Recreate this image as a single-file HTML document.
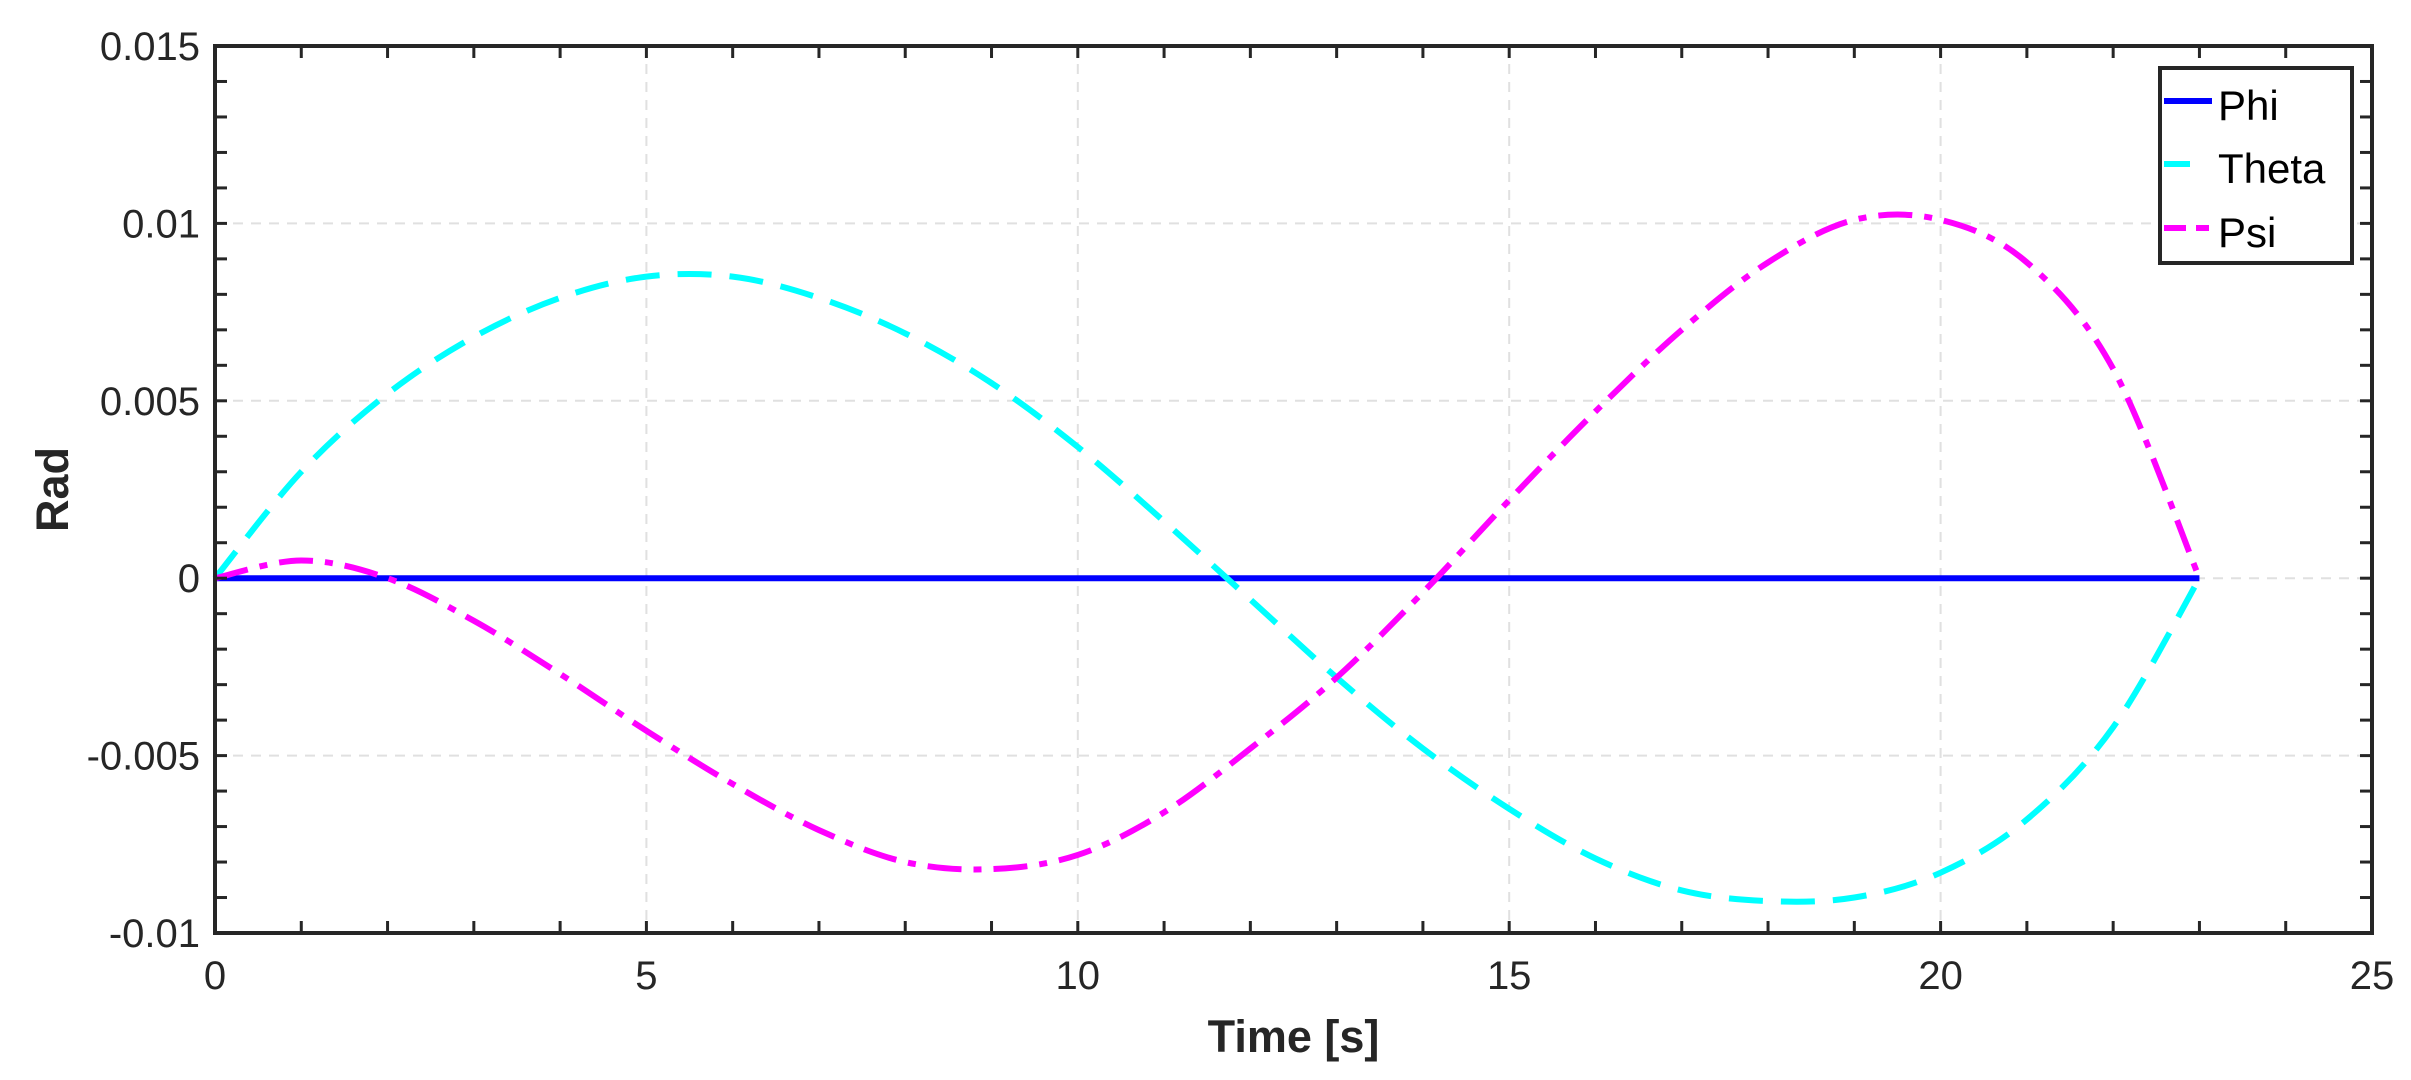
<!DOCTYPE html>
<html><head><meta charset="utf-8"><style>body{margin:0;background:#fff}svg{display:block}</style></head><body>
<svg id="s" width="2411" height="1080" xmlns="http://www.w3.org/2000/svg" font-family="Liberation Sans, Arial, sans-serif"></svg>
<script>
const L=215,R=2372,T=46,B=933;
const X=t=>L+(t/25)*(R-L), Y=v=>T+(0.015-v)/0.025*(B-T);
let h='<rect width="2411" height="1080" fill="#fff"/>';
for(let t=5;t<25;t+=5)h+=`<line x1="${X(t)}" y1="${T}" x2="${X(t)}" y2="${B}" stroke="#e0e0e0" stroke-width="2" stroke-dasharray="10,8"/>`;
for(let v=-0.005;v<0.0149;v+=0.005)h+=`<line x1="${L}" y1="${Y(v)}" x2="${R}" y2="${Y(v)}" stroke="#e0e0e0" stroke-width="2" stroke-dasharray="10,8"/>`;
function path(pts){const p=pts.map(a=>[X(a[0]),Y(a[1])]);let d=`M${p[0][0]},${p[0][1]}`;
for(let i=0;i<p.length-1;i++){const p0=p[Math.max(0,i-1)],p1=p[i],p2=p[i+1],p3=p[Math.min(p.length-1,i+2)];
d+=` C${p1[0]+(p2[0]-p0[0])/6},${p1[1]+(p2[1]-p0[1])/6} ${p2[0]-(p3[0]-p1[0])/6},${p2[1]-(p3[1]-p1[1])/6} ${p2[0]},${p2[1]}`;}return d;}
const th=[0,0.003,0.0052,0.0068,0.0079,0.0085,0.0085,0.0079,0.0069,0.0055,0.0037,0.0016,-0.0006,-0.0028,-0.0048,-0.0065,-0.0079,-0.0088,-0.0091,-0.0090,-0.0083,-0.0068,-0.0042,0].map((v,i)=>[i,v]);
const ps=[0,0.0005,0,-0.0012,-0.0027,-0.0043,-0.0058,-0.0071,-0.0080,-0.0082,-0.0078,-0.0066,-0.0048,-0.0028,-0.0004,0.0022,0.0047,0.0070,0.0089,0.0101,0.0101,0.0089,0.0059,0].map((v,i)=>[i,v]);
h+=`<line x1="${X(0)}" y1="${Y(0)}" x2="${X(23)}" y2="${Y(0)}" stroke="#0000ff" stroke-width="6"/>`;
h+=`<path d="${path(th)}" fill="none" stroke="#00ffff" stroke-width="6" stroke-dasharray="34,18"/>`;
h+=`<path d="${path(ps)}" fill="none" stroke="#ff00ff" stroke-width="6" stroke-dasharray="34,12,8,12"/>`;
for(let t=0;t<=25;t++){const x=X(t);h+=`<line x1="${x}" y1="${B}" x2="${x}" y2="${B-12}" stroke="#262626" stroke-width="3"/><line x1="${x}" y1="${T}" x2="${x}" y2="${T+12}" stroke="#262626" stroke-width="3"/>`;}
for(let k=-10;k<=15;k++){const y=Y(k/1000);h+=`<line x1="${L}" y1="${y}" x2="${L+12}" y2="${y}" stroke="#262626" stroke-width="3"/><line x1="${R}" y1="${y}" x2="${R-12}" y2="${y}" stroke="#262626" stroke-width="3"/>`;}
h+=`<rect x="${L}" y="${T}" width="${R-L}" height="${B-T}" fill="none" stroke="#262626" stroke-width="4"/>`;
for(let t=0;t<=25;t+=5)h+=`<text x="${X(t)}" y="${B+56}" font-size="40" fill="#262626" text-anchor="middle">${t}</text>`;
[["0.015",0.015],["0.01",0.01],["0.005",0.005],["0",0],["-0.005",-0.005],["-0.01",-0.01]].forEach(a=>h+=`<text x="200" y="${Y(a[1])+14}" font-size="40" fill="#262626" text-anchor="end">${a[0]}</text>`);
h+=`<text x="${(L+R)/2}" y="1052" font-size="45" font-weight="bold" fill="#262626" text-anchor="middle">Time [s]</text>`;
h+=`<text transform="translate(68,${(T+B)/2}) rotate(-90)" font-size="45" font-weight="bold" fill="#262626" text-anchor="middle">Rad</text>`;
h+=`<rect x="2160" y="68" width="192" height="195" fill="#fff" stroke="#262626" stroke-width="4"/>`;
h+=`<line x1="2164" y1="101" x2="2212" y2="101" stroke="#0000ff" stroke-width="6"/><text x="2218" y="120" font-size="42">Phi</text>`;
h+=`<line x1="2164" y1="164" x2="2190" y2="164" stroke="#00ffff" stroke-width="6"/><text x="2218" y="183" font-size="42">Theta</text>`;
h+=`<line x1="2164" y1="228" x2="2186" y2="228" stroke="#ff00ff" stroke-width="6"/><line x1="2196" y1="228" x2="2209" y2="228" stroke="#ff00ff" stroke-width="6"/><text x="2218" y="247" font-size="42">Psi</text>`;
document.getElementById('s').innerHTML=h;
</script>
</body></html>
